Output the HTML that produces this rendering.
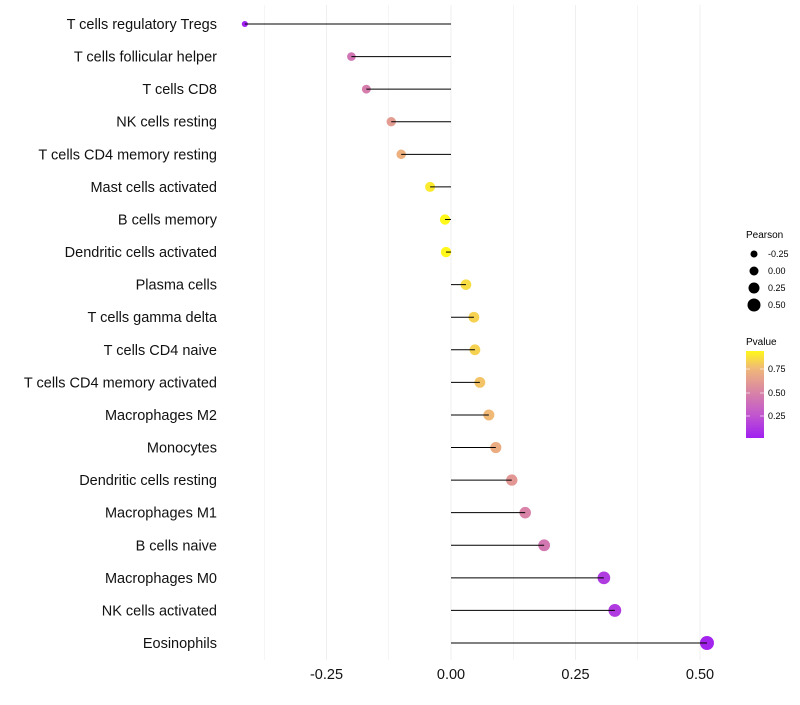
<!DOCTYPE html>
<html><head><meta charset="utf-8"><style>
body{margin:0;background:#fff;font-family:"Liberation Sans",sans-serif}
</style></head><body>
<svg id="chart" width="800" height="700" xmlns="http://www.w3.org/2000/svg">
<defs><linearGradient id="pg" x1="0" y1="1" x2="0" y2="0">
<stop offset="0" stop-color="#A020F0"/><stop offset="0.27" stop-color="#C257CE"/><stop offset="0.54" stop-color="#DA86A4"/><stop offset="0.8" stop-color="#F0B878"/><stop offset="1" stop-color="#FFF81A"/></linearGradient></defs>
<g id="grid"></g>
<g id="marks"></g>
<g id="axes"></g>
<g font-size="9">
<text x="746" y="238" font-size="10">Pearson</text>
<circle cx="754" cy="254" r="3.5"/><text x="768" y="257">-0.25</text>
<circle cx="754" cy="271" r="4.5"/><text x="768" y="274">0.00</text>
<circle cx="754" cy="288" r="5.5"/><text x="768" y="291">0.25</text>
<circle cx="754" cy="305" r="6.5"/><text x="768" y="308">0.50</text>
</g>
<g font-size="9">
<text x="746" y="345" font-size="10">Pvalue</text>
<rect x="746" y="351" width="18" height="87" fill="url(#pg)"/>
<line x1="746" x2="750" y1="369" y2="369" stroke="#fff" stroke-opacity=".6"/><line x1="760" x2="764" y1="369" y2="369" stroke="#fff" stroke-opacity=".6"/>
<line x1="746" x2="750" y1="393" y2="393" stroke="#fff" stroke-opacity=".6"/><line x1="760" x2="764" y1="393" y2="393" stroke="#fff" stroke-opacity=".6"/>
<line x1="746" x2="750" y1="416" y2="416" stroke="#fff" stroke-opacity=".6"/><line x1="760" x2="764" y1="416" y2="416" stroke="#fff" stroke-opacity=".6"/>
<text x="768" y="372">0.75</text><text x="768" y="396">0.50</text><text x="768" y="419">0.25</text>
</g>
</svg>
<script>
const categories=["T cells regulatory  Tregs","T cells follicular helper","T cells CD8","NK cells resting","T cells CD4 memory resting","Mast cells activated","B cells memory","Dendritic cells activated","Plasma cells","T cells gamma delta","T cells CD4 naive","T cells CD4 memory activated","Macrophages M2","Monocytes","Dendritic cells resting","Macrophages M1","B cells naive","Macrophages M0","NK cells activated","Eosinophils"];
const pearson=[-0.414,-0.20,-0.17,-0.12,-0.10,-0.042,-0.012,-0.01,0.03,0.046,0.048,0.058,0.076,0.09,0.122,0.149,0.187,0.307,0.329,0.514];
const pvalue=[0.02,0.42,0.47,0.62,0.72,0.9,0.95,0.95,0.86,0.83,0.83,0.79,0.76,0.7,0.6,0.5,0.44,0.14,0.14,0.04];
const xTicks=[-0.25,0,0.25,0.5];
const xTickLabels=["-0.25","0.00","0.25","0.50"];
const ns="http://www.w3.org/2000/svg";
const x=v=>451+v*498;
const y=i=>24+i*(643-24)/19;
const stops=[[0,[160,32,240]],[0.27,[194,87,206]],[0.54,[218,134,164]],[0.8,[240,184,120]],[1,[255,248,26]]];
function col(p){let t=(p-0.02)/0.92;t=Math.max(0,Math.min(1,t));for(let k=1;k<stops.length;k++){if(t<=stops[k][0]){const a=stops[k-1],b=stops[k],f=(t-a[0])/(b[0]-a[0]);return "rgb("+a[1].map((c,j)=>Math.round(c+(b[1][j]-c)*f)).join(",")+")";}}return "rgb(255,248,26)";}
function mk(tag,attrs,parent){const e=document.createElementNS(ns,tag);for(const k in attrs)e.setAttribute(k,attrs[k]);parent.appendChild(e);return e;}
const grid=document.getElementById('grid'),marks=document.getElementById('marks'),axes=document.getElementById('axes');
for(let v=-0.375;v<=0.51;v+=0.125){const l=mk('line',{x1:x(v),x2:x(v),y1:5,y2:660,stroke:'#ebebeb','stroke-width':(Math.abs(v*4-Math.round(v*4))<1e-6)?0.8:0.5},grid);}
categories.forEach((c,i)=>{
 const r=Math.sqrt(Math.max(2.25,27+42.7*pearson[i]));
 const d=mk('circle',{cx:x(pearson[i]),cy:y(i),r:r,fill:col(pvalue[i])},marks);
 
 const s=mk('line',{x1:x(0),x2:x(pearson[i]),y1:y(i),y2:y(i),stroke:'#000','stroke-width':1},marks);
 
 const t=mk('text',{x:217,y:y(i)+5,'text-anchor':'end','font-size':14.5,fill:'#111'},axes);t.textContent=c;
 
});
xTicks.forEach((v,i)=>{const t=mk('text',{x:x(v),y:679,'text-anchor':'middle','font-size':14.5,fill:'#111'},axes);t.textContent=xTickLabels[i];
 });
</script>
</body></html>
